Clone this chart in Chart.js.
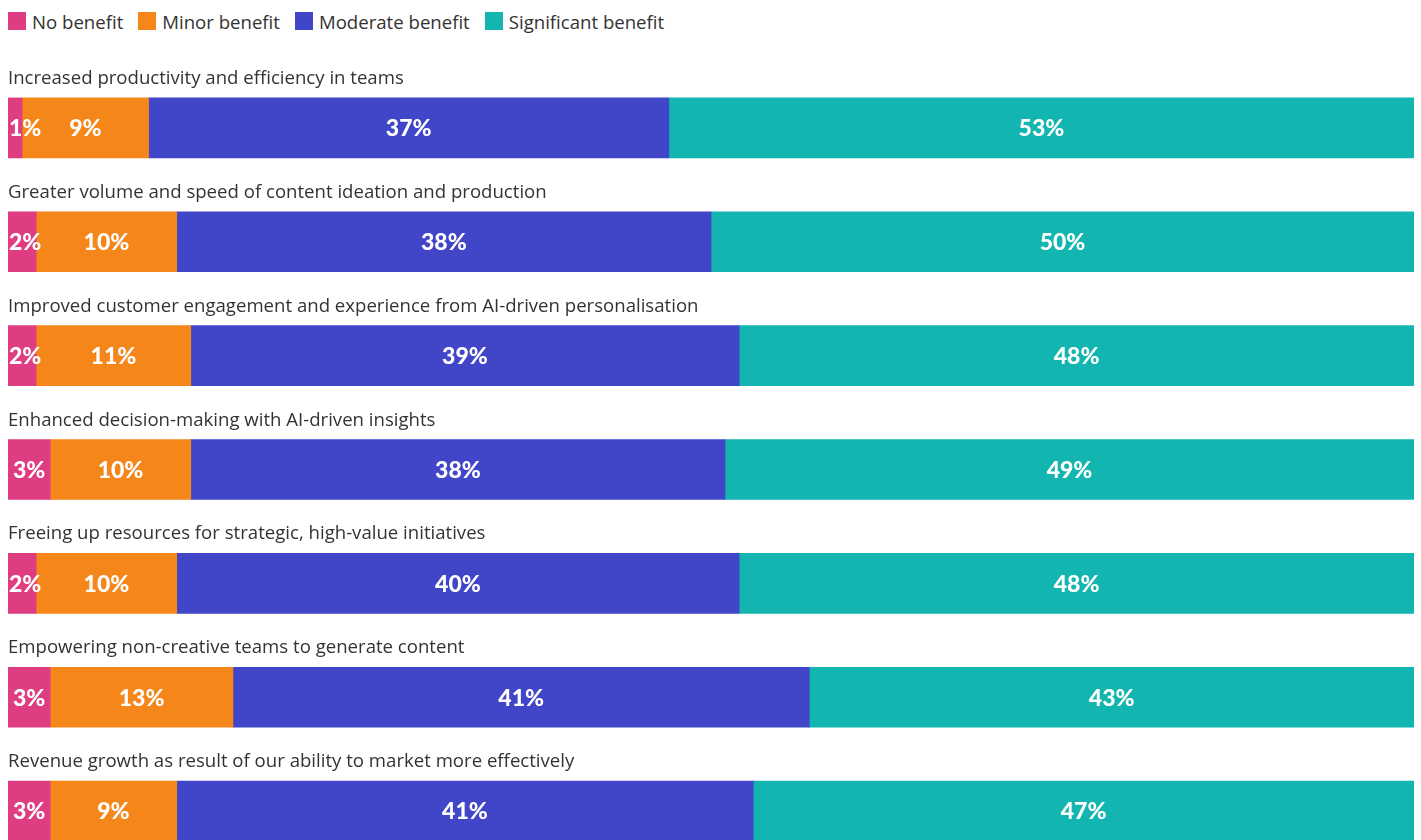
<!DOCTYPE html>
<html lang="en">
<head>
    <meta charset="UTF-8">
    <meta name="viewport" content="width=device-width, initial-scale=1.0">
    <title>AI benefits</title>
    <script src="https://cdn.jsdelivr.net/npm/chart.js"></script>
    <style>
        body{
            margin:0;
            background:#fff;
            overflow:hidden;
            font-family:"Open Sans", sans-serif;
            color:#333;
        }
        #leyenda{
            display:flex;
            height:42px;
            align-items:center;
            padding-left:8px;
            font-size:18.6px;
        }
        #leyenda span.item{
            display:flex;
            align-items:center;
            margin-right:15px;
        }
        #leyenda span.caja{
            display:inline-block;
            width:18px;
            height:18px;
            margin-right:6px;
            margin-top:-1px;
        }
        .grafico{
            position:relative;
            width:1421px;
            height:826px;
        }
    </style>
</head>
<body>
    <div id="leyenda"></div>
    <div class="grafico">
        <canvas id="myChart"></canvas>
    </div>

    <script>
        // preguntas (una barra por pregunta)
        const categorias = [
            'Increased productivity and efficiency in teams',
            'Greater volume and speed of content ideation and production',
            'Improved customer engagement and experience from AI-driven personalisation',
            'Enhanced decision-making with AI-driven insights',
            'Freeing up resources for strategic, high-value initiatives',
            'Empowering non-creative teams to generate content',
            'Revenue growth as result of our ability to market more effectively'
        ]
        const series = ['No benefit', 'Minor benefit', 'Moderate benefit', 'Significant benefit']
        const noBenefit = [1, 2, 2, 3, 2, 3, 3]
        const minorBenefit = [9, 10, 11, 10, 10, 13, 9]
        const moderateBenefit = [37, 38, 39, 38, 40, 41, 41]
        const significantBenefit = [53, 50, 48, 49, 48, 43, 47]
        const colores = ['#de3d82', '#f5861a', '#4146c8', '#12b5af']

        const valores = [noBenefit, minorBenefit, moderateBenefit, significantBenefit]

        // leyenda en html
        let htmlLeyenda = ''
        series.forEach((s, i) => {
            htmlLeyenda += `<span class="item"><span class="caja" style="background:${colores[i]}"></span>${s}</span>`
        })
        document.getElementById('leyenda').innerHTML = htmlLeyenda

        // titulo encima de cada barra + porcentaje dentro de cada segmento
        const textos = {
            id: 'textos',
            afterDatasetsDraw(chart) {
                const ctx = chart.ctx
                const izq = chart.chartArea.left
                ctx.save()
                ctx.font = '18.6px "Open Sans", sans-serif'
                ctx.fillStyle = '#333'
                ctx.textAlign = 'left'
                ctx.textBaseline = 'alphabetic'
                chart.getDatasetMeta(0).data.forEach((bar, i) => {
                    const top = bar.y - bar.height / 2
                    ctx.fillText(categorias[i], izq, top - 14)
                })

                ctx.font = '900 23px Lato, sans-serif'
                ctx.fillStyle = '#fff'
                ctx.textAlign = 'center'
                ctx.textBaseline = 'middle'
                chart.data.datasets.forEach((ds, d) => {
                    chart.getDatasetMeta(d).data.forEach((bar, i) => {
                        const txt = ds.data[i] + '%'
                        const c = bar.getCenterPoint()
                        const w = ctx.measureText(txt).width
                        // que no se salga por la izquierda
                        const x = Math.max(c.x, izq + 1 + w / 2)
                        ctx.fillText(txt, x, c.y + 1)
                    })
                })
                ctx.restore()
            }
        }

        var ctx = document.getElementById('myChart')
        var myChart = new Chart(ctx, {
            type: 'bar',
            data: {
                labels: categorias,
                datasets: series.map((s, i) => ({
                    label: s,
                    data: valores[i],
                    backgroundColor: colores[i],
                    borderWidth: 0,
                    barThickness: 60
                }))
            },
            options: {
                indexAxis: 'y',
                responsive: true,
                maintainAspectRatio: false,
                animation: false,
                layout: {
                    padding: { top: 29, left: 8, right: 7, bottom: 0 }
                },
                plugins: {
                    legend: { display: false },
                    tooltip: { enabled: false }
                },
                scales: {
                    x: { stacked: true, min: 0, max: 100, display: false },
                    y: { stacked: true, display: false }
                }
            },
            plugins: [textos]
        })
    </script>
</body>
</html>
